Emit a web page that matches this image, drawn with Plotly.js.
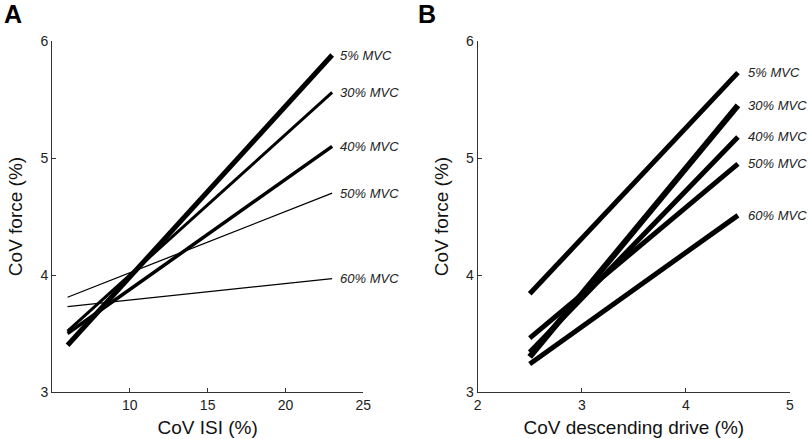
<!DOCTYPE html>
<html><head><meta charset="utf-8">
<script src="https://cdn.plot.ly/plotly-3.0.1.min.js"></script>
<style>html,body{margin:0;padding:0;background:#fff}#plot{width:810px;height:439px}</style>
</head><body><div id="plot"></div>
<script>
const labels = ["5% MVC","30% MVC","40% MVC","50% MVC","60% MVC"];
// Panel A: CoV ISI (%) vs CoV force (%)
const isiX = [6, 23];
const forceA_5  = [3.40, 5.88];
const forceA_30 = [3.52, 5.56];
const forceA_40 = [3.50, 5.10];
const forceA_50 = [3.81, 4.70];
const forceA_60 = [3.73, 3.97];
// Panel B: CoV descending drive (%) vs CoV force (%)
const driveX = [2.5, 4.5];
const forceB_5  = [3.84, 5.73];
const forceB_30 = [3.30, 5.45];
const forceB_40 = [3.34, 5.18];
const forceB_50 = [3.46, 4.95];
const forceB_60 = [3.24, 4.51];
const xTicksA = [10, 15, 20, 25];
const xTicksB = [2, 3, 4, 5];
const yTicks = [3, 4, 5, 6];

const seriesA = [forceA_5, forceA_30, forceA_40, forceA_50, forceA_60];
const seriesB = [forceB_5, forceB_30, forceB_40, forceB_50, forceB_60];
const widthsA = [5, 3, 3.5, 1.3, 1.3];
const widthsB = [5, 6, 5, 5, 5];

const traces = [];
seriesA.forEach((s, i) => traces.push({x: isiX, y: s, mode: 'lines', xaxis: 'x', yaxis: 'y',
  line: {color: '#000', width: widthsA[i]}, hoverinfo: 'skip'}));
seriesB.forEach((s, i) => traces.push({x: driveX, y: s, mode: 'lines', xaxis: 'x2', yaxis: 'y2',
  line: {color: '#000', width: widthsB[i]}, hoverinfo: 'skip'}));

const annotations = [];
const lblFont = {family: 'Liberation Sans, Arial, sans-serif', size: 13, color: '#222'};
seriesA.forEach((s, i) => annotations.push({x: isiX[1], y: s[1], xref: 'x', yref: 'y', text: '<i>' + labels[i] + '</i>',
  showarrow: false, xanchor: 'left', xshift: 6, font: lblFont}));
seriesB.forEach((s, i) => annotations.push({x: driveX[1], y: s[1], xref: 'x2', yref: 'y2', text: '<i>' + labels[i] + '</i>',
  showarrow: false, xanchor: 'left', xshift: 8, font: lblFont}));
annotations.push({x: 0.002, y: 1.005, xref: 'paper', yref: 'paper', text: '<b>A</b>', showarrow: false,
  xanchor: 'left', yanchor: 'top', font: {family: 'Liberation Sans, Arial, sans-serif', size: 25, color: '#000'}});
annotations.push({x: 0.513, y: 1.005, xref: 'paper', yref: 'paper', text: '<b>B</b>', showarrow: false,
  xanchor: 'left', yanchor: 'top', font: {family: 'Liberation Sans, Arial, sans-serif', size: 25, color: '#000'}});

const tickFont = {family: 'Liberation Sans, Arial, sans-serif', size: 14, color: '#222'};
const titleFont = {family: 'Liberation Sans, Arial, sans-serif', size: 19, color: '#111'};
const axBase = {showgrid: false, zeroline: false, showline: true, linecolor: '#333', linewidth: 1,
  ticks: 'inside', ticklen: 4, tickcolor: '#333', tickfont: tickFont, mirror: false};

const layout = {
  width: 810, height: 439, margin: {l: 0, r: 0, t: 0, b: 0},
  paper_bgcolor: '#fff', plot_bgcolor: '#fff', showlegend: false,
  xaxis: Object.assign({}, axBase, {domain: [0.0642, 0.4485], range: [5, 25], tickvals: xTicksA,
    title: {text: 'CoV ISI (%)', font: titleFont, standoff: 8}}),
  yaxis: Object.assign({}, axBase, {domain: [0.107, 0.9066], range: [3, 6], tickvals: yTicks, anchor: 'x',
    title: {text: 'CoV force (%)', font: titleFont, standoff: 12}}),
  xaxis2: Object.assign({}, axBase, {domain: [0.5897, 0.9753], range: [2, 5], tickvals: xTicksB, anchor: 'y2',
    title: {text: 'CoV descending drive (%)', font: titleFont, standoff: 8}}),
  yaxis2: Object.assign({}, axBase, {domain: [0.107, 0.9066], range: [3, 6], tickvals: yTicks, anchor: 'x2',
    title: {text: 'CoV force (%)', font: titleFont, standoff: 12}}),
  annotations: annotations
};
Plotly.newPlot('plot', traces, layout, {displayModeBar: false, staticPlot: true});
</script></body></html>
